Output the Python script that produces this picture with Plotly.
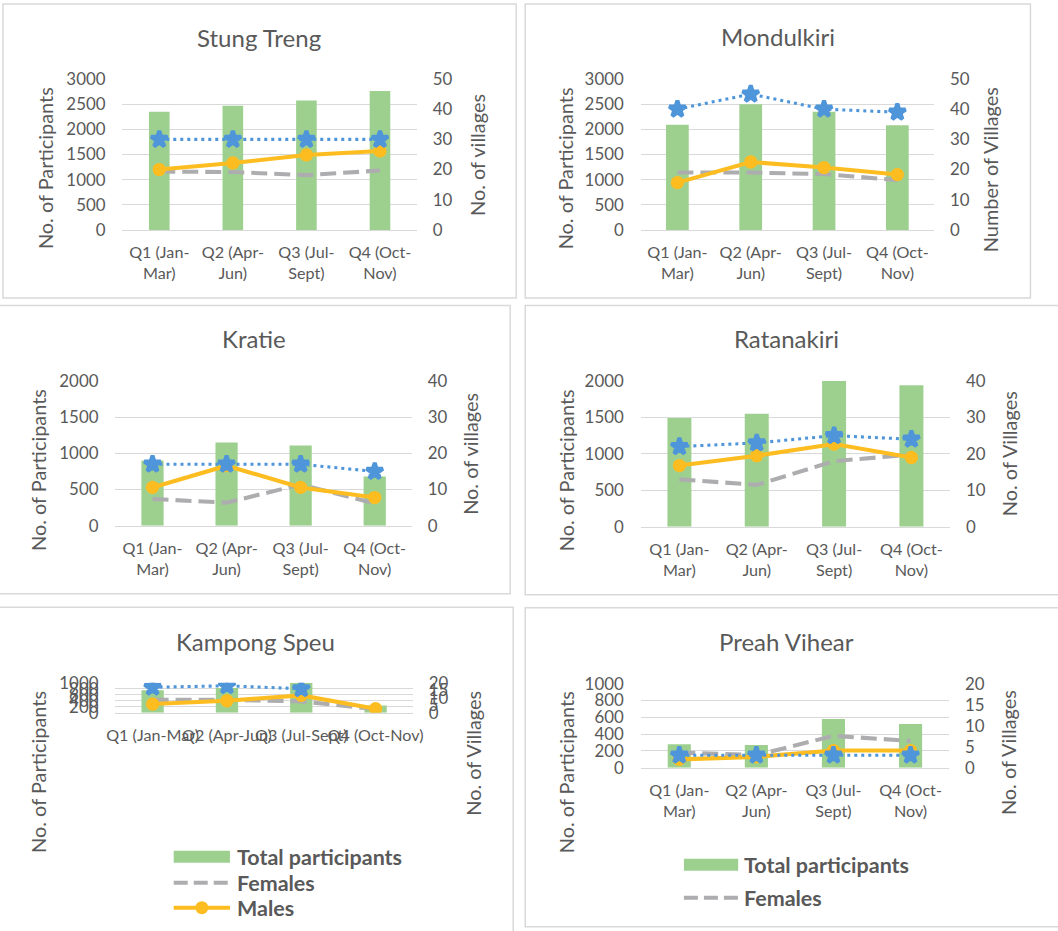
import plotly.graph_objects as go

# ---- data -------------------------------------------------------------
quarters = ["Q1 (Jan-Mar)", "Q2 (Apr-Jun)", "Q3 (Jul-Sept)", "Q4 (Oct-Nov)"]

provinces = ["Stung Treng", "Mondulkiri", "Kratie", "Ratanakiri", "Kampong Speu", "Preah Vihear"]

stung_treng_total = [2350, 2470, 2570, 2760]
stung_treng_females = [1160, 1150, 1090, 1180]
stung_treng_males = [1200, 1330, 1490, 1570]
stung_treng_villages = [30, 30, 30, 30]

mondulkiri_total = [2090, 2500, 2350, 2080]
mondulkiri_females = [1140, 1140, 1110, 990]
mondulkiri_males = [940, 1350, 1240, 1100]
mondulkiri_villages = [40, 45, 40, 39]

kratie_total = [900, 1150, 1110, 680]
kratie_females = [370, 320, 570, 310]
kratie_males = [530, 830, 530, 390]
kratie_villages = [17, 17, 17, 15]

ratanakiri_total = [1490, 1550, 2000, 1940]
ratanakiri_females = [650, 575, 900, 990]
ratanakiri_males = [840, 975, 1135, 950]
ratanakiri_villages = [22, 23, 25, 24]

kampong_speu_total = [750, 830, 1000, 240]
kampong_speu_females = [430, 430, 380, 125]
kampong_speu_males = [290, 400, 580, 135]
kampong_speu_villages = [17, 18, 16, None]

preah_vihear_total = [280, 270, 580, 520]
preah_vihear_females = [180, 150, 380, 320]
preah_vihear_males = [100, 130, 205, 205]
preah_vihear_villages = [3, 3, 3, 3]

# axis ranges / tick steps: (participants max, step, villages max, step)
axis_scales = [
    (3000, 500, 50, 10),
    (3000, 500, 50, 10),
    (2000, 500, 40, 10),
    (2000, 500, 40, 10),
    (1000, 200, 20, 5),
    (1000, 200, 20, 5),
]
right_titles = ["No. of villages", "Number of Villages", "No. of villages",
                "No. of Villages", "No. of Villages", "No. of Villages"]
left_title = "No. of Participants"
legend_names = ["Total participants", "Females", "Males"]

series = [
    (stung_treng_total, stung_treng_females, stung_treng_males, stung_treng_villages),
    (mondulkiri_total, mondulkiri_females, mondulkiri_males, mondulkiri_villages),
    (kratie_total, kratie_females, kratie_males, kratie_villages),
    (ratanakiri_total, ratanakiri_females, ratanakiri_males, ratanakiri_villages),
    (kampong_speu_total, kampong_speu_females, kampong_speu_males, kampong_speu_villages),
    (preah_vihear_total, preah_vihear_females, preah_vihear_males, preah_vihear_villages),
]

# ---- layout geometry --------------------------------------------------
# Positions below are given in screen pixels of the finished page; the page
# shows the figure inset by OFF px and zoomed by ZOOM, so convert back here.
SCREEN_W, SCREEN_H = 1058, 931
OFF, ZOOM = 11.0, 0.978
W = round((SCREEN_W - OFF) / ZOOM)
H = round((SCREEN_H - OFF) / ZOOM)
K = 1 / ZOOM

FONT = "Lato"
TXT = "#595959"
GRID = "#D9D9D9"
GREEN = "#9DD08F"
GRAY = "#ADADB0"
ORANGE = "#FDBD21"
BLUE = "#4F95DA"

# plot areas: x0, x1, y_top, y_bottom
plot_boxes = [
    (124, 417, 79, 230),
    (640, 932, 79, 230),
    (117, 412, 381, 526),
    (640, 948, 381, 527),
    (117, 413, 683, 713),
    (640, 947, 684, 768),
]
bar_widths = [0.28, 0.31, 0.30, 0.31, 0.30, 0.30]
panel_frames = [
    (5, 516, 4, 298),
    (525, 1028, 4, 298),
    (0.5, 510, 305.5, 594),
    (525, 1070, 305.5, 595),
    (0.5, 513, 607.5, 945),
    (525, 1070, 608, 927),
]
title_pos = [(260, 38), (777, 37), (255, 339), (785, 339), (256, 642), (785, 642)]
left_title_pos = [(47, 168), (565, 168), (40, 470), (565, 470), (40, 772), (565, 772)]
right_title_pos = [(477, 155), (988, 170), (470, 454), (1007, 454), (473, 754), (1005, 753)]


def fx(x):
    return (x - OFF) / ZOOM / W


def fy(y):
    return 1 - (y - OFF) / ZOOM / H


def fs(size):
    return size * K


fig = go.Figure()
layout = dict(
    width=W, height=H, margin=dict(l=0, r=0, t=0, b=0),
    paper_bgcolor="white", plot_bgcolor="white",
    font=dict(family=FONT, color=TXT), showlegend=False,
)
shapes, annotations = [], []

for i in range(6):
    n = i + 1
    xs = "" if n == 1 else str(n)
    ys_left = "" if n == 1 else str(n)
    ys_right = str(n + 6)
    total, females, males, villages = series[i]
    ymax, ystep, vmax, vstep = axis_scales[i]
    x0, x1, yt, yb = plot_boxes[i]

    fig.add_trace(go.Bar(
        x=quarters, y=total, width=bar_widths[i], marker=dict(color=GREEN, line=dict(width=0)),
        name=legend_names[0], xaxis="x" + xs, yaxis="y" + ys_left))
    fig.add_trace(go.Scatter(
        x=quarters, y=females, mode="lines", name=legend_names[1],
        line=dict(color=GRAY, width=fs(4), dash="16px,7px"),
        xaxis="x" + xs, yaxis="y" + ys_left))
    fig.add_trace(go.Scatter(
        x=quarters, y=males, mode="lines+markers", name=legend_names[2],
        line=dict(color=ORANGE, width=fs(4)),
        marker=dict(symbol="circle", size=fs(13), color=ORANGE),
        xaxis="x" + xs, yaxis="y" + ys_left))
    fig.add_trace(go.Scatter(
        x=quarters, y=villages, mode="lines+markers", name="Villages",
        line=dict(color=BLUE, width=fs(3), dash="3px,4px"),
        marker=dict(symbol="star", size=fs(12), color=BLUE, line=dict(color=BLUE, width=4)),
        connectgaps=False,
        xaxis="x" + xs, yaxis="y" + ys_right))

    if n == 5:
        ticktext = quarters
    else:
        ticktext = [q.replace("-", "-<br>", 1) for q in quarters]

    layout["xaxis" + xs] = dict(
        domain=[fx(x0), fx(x1)], anchor="y" + ys_left, type="category",
        range=[-0.5, 3.5], tickmode="array", tickvals=quarters, ticktext=ticktext,
        tickangle=0, showgrid=False, showline=True, linecolor=GRID, ticks="",
        tickfont=dict(size=fs(15.8), color=TXT), ticklabelstandoff=8, fixedrange=True)
    layout["yaxis" + ys_left] = dict(
        domain=[fy(yb), fy(yt)], anchor="x" + xs, range=[0, ymax], dtick=ystep,
        showgrid=True, gridcolor=GRID, gridwidth=1, zeroline=False, ticks="",
        tickfont=dict(size=fs(16.5), color=TXT), ticklabelstandoff=16, fixedrange=True)
    layout["yaxis" + ys_right] = dict(
        overlaying="y" + ys_left, side="right", anchor="x" + xs, range=[0, vmax], dtick=vstep,
        showgrid=False, zeroline=False, ticks="",
        tickfont=dict(size=fs(16.5), color=TXT), ticklabelstandoff=15, fixedrange=True)

    fx0, fx1, fy0, fy1 = panel_frames[i]
    shapes.append(dict(type="rect", xref="paper", yref="paper",
                       x0=fx(fx0), x1=fx(fx1), y0=fy(fy1), y1=fy(fy0),
                       line=dict(color="#D9D9D9", width=1.5), layer="below"))

    tx, ty = title_pos[i]
    annotations.append(dict(text=provinces[i], xref="paper", yref="paper", x=fx(tx), y=fy(ty),
                            xanchor="center", yanchor="middle", showarrow=False,
                            font=dict(size=fs(23.5), color=TXT)))
    lx, ly = left_title_pos[i]
    annotations.append(dict(text=left_title, xref="paper", yref="paper", x=fx(lx), y=fy(ly),
                            xanchor="center", yanchor="middle", textangle=-90, showarrow=False,
                            font=dict(size=fs(19.5), color=TXT)))
    rx, ry = right_title_pos[i]
    annotations.append(dict(text=right_titles[i], xref="paper", yref="paper", x=fx(rx), y=fy(ry),
                            xanchor="center", yanchor="middle", textangle=-90, showarrow=False,
                            font=dict(size=fs(19.5), color=TXT)))


# ---- hand-drawn legends under the bottom two panels ------------------
def legend_block(sx0, sx1, text_x, rows):
    for kind, yc, label in rows:
        if kind == "bar":
            shapes.append(dict(type="rect", xref="paper", yref="paper",
                               x0=fx(sx0), x1=fx(sx1), y0=fy(yc + 6), y1=fy(yc - 6),
                               fillcolor=GREEN, line=dict(width=0)))
        elif kind == "dash":
            shapes.append(dict(type="line", xref="paper", yref="paper",
                               x0=fx(sx0), x1=fx(sx1), y0=fy(yc), y1=fy(yc),
                               line=dict(color=GRAY, width=fs(4), dash="14px,6px")))
        else:
            shapes.append(dict(type="line", xref="paper", yref="paper",
                               x0=fx(sx0), x1=fx(sx1), y0=fy(yc), y1=fy(yc),
                               line=dict(color=ORANGE, width=fs(4))))
            mid = (sx0 + sx1) / 2
            shapes.append(dict(type="circle", xref="paper", yref="paper",
                               x0=fx(mid - 6.5), x1=fx(mid + 6.5), y0=fy(yc + 6.5), y1=fy(yc - 6.5),
                               fillcolor=ORANGE, line=dict(width=0)))
        annotations.append(dict(text="<b>%s</b>" % label, xref="paper", yref="paper",
                                x=fx(text_x), y=fy(yc), xanchor="left", yanchor="middle",
                                showarrow=False, font=dict(size=fs(21), color=TXT)))


legend_block(175, 231, 236, [("bar", 857, legend_names[0]),
                             ("dash", 883, legend_names[1]),
                             ("line", 908, legend_names[2])])
legend_block(683, 737, 741, [("bar", 865, legend_names[0]),
                             ("dash", 898, legend_names[1])])

layout["shapes"] = shapes
layout["annotations"] = annotations
fig.update_layout(**layout)
fig.write_html("out.html")
